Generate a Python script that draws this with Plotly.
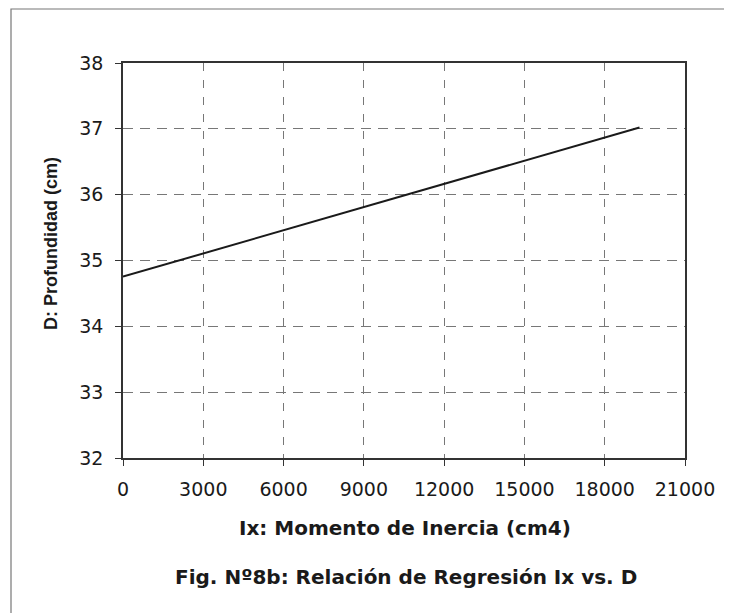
import plotly.graph_objects as go

# Data
ix_values = [0, 19300]          # Ix: Momento de Inercia (cm4)
d_values = [34.755, 37.02]      # D: Profundidad (cm)
x_ticks = [0, 3000, 6000, 9000, 12000, 15000, 18000, 21000]
y_ticks = [32, 33, 34, 35, 36, 37, 38]

# page body has an 8px margin, so the figure is drawn 8px smaller and shifted
OFF = 8
W, H = 732 - OFF, 613 - OFF
L, T = 123 - OFF, 63 - OFF
R = W - (685 - OFF)
B = H - (458 - OFF)
pw, ph = W - L - R, H - T - B

def px_x(p):
    return (p - OFF - L) / pw

def px_y(p):
    return (H - B - (p - OFF)) / ph

arial = "Liberation Sans, Arial, sans-serif"
wide = "DejaVu Sans, Verdana, sans-serif"

fig = go.Figure()
fig.add_trace(go.Scatter(x=ix_values, y=d_values, mode="lines",
                         line=dict(color="#1a1a1a", width=2), showlegend=False))

fig.update_layout(
    width=W, height=H,
    margin=dict(l=L, r=R, t=T, b=B),
    paper_bgcolor="white", plot_bgcolor="white",
    font=dict(family=wide, size=19, color="#1a1a1a"),
    xaxis=dict(range=[0, 21000], tickvals=x_ticks, ticktext=[str(v) for v in x_ticks],
               showgrid=True, gridcolor="#777", griddash="8px,9px", gridwidth=1,
               showline=True, linecolor="#333", linewidth=1.5, mirror=True,
               ticks="outside", ticklen=6, tickcolor="#333", zeroline=False,
               ticklabelstandoff=7),
    yaxis=dict(range=[32, 38], tickvals=y_ticks,
               showgrid=True, gridcolor="#777", griddash="10px,7px", gridwidth=1,
               showline=True, linecolor="#333", linewidth=1.5, mirror=True,
               ticks="outside", ticklen=6, tickcolor="#333", zeroline=False,
               ticklabelstandoff=8),
    annotations=[
        dict(text="<b>Ix: Momento de Inercia (cm4)</b>", xref="paper", yref="paper",
             x=px_x(405), y=px_y(528), showarrow=False, font=dict(size=20, family=wide),
             xanchor="center", yanchor="middle"),
        dict(text="<b>Fig. Nº8b: Relación de Regresión Ix vs. D</b>", xref="paper", yref="paper",
             x=px_x(406), y=px_y(577), showarrow=False, font=dict(size=20, family=wide),
             xanchor="center", yanchor="middle"),
        dict(text="<b>D: Profundidad (cm)</b>", xref="paper", yref="paper",
             x=px_x(51), y=px_y(244), showarrow=False, textangle=-90,
             font=dict(size=18, family=arial), xanchor="center", yanchor="middle"),
    ],
    shapes=[
        dict(type="rect", xref="paper", yref="paper",
             x0=px_x(11), x1=px_x(760), y0=px_y(640), y1=px_y(9),
             line=dict(color="#777", width=1.2), fillcolor="rgba(0,0,0,0)", layer="below"),
    ],
)

fig.write_html("out.html")
